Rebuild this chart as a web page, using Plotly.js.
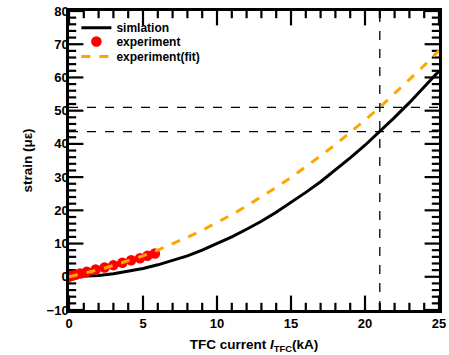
<!DOCTYPE html>
<html><head><meta charset="utf-8">
<script src="https://cdn.plot.ly/plotly-3.0.1.min.js"></script>
<style>body{margin:0;background:#fff}#c{width:449px;height:355px}</style>
</head><body><div id="c"></div>
<script>
var simX = [0,1,2,3,4,5,6,7,8,9,10,11,12,13,14,15,16,17,18,19,20,21,22,23,24,25];
var simY = [0,0.1,0.4,0.9,1.6,2.5,3.6,4.9,6.3,8.0,9.9,12.0,14.3,16.7,19.4,22.3,25.4,28.6,32.1,35.8,39.6,43.7,48.0,52.4,57.1,61.9];
var fitX = [0,1,2,3,4,5,6,7,8,9,10,11,12,13,14,15,16,17,18,19,20,21,22,23,24,25];
var fitY = [0,1.0,2.1,3.4,4.8,6.3,8.0,9.9,11.9,14.0,16.3,18.7,21.3,24.0,26.9,29.9,33.1,36.4,39.8,43.4,47.2,51.0,55.1,59.3,63.6,68.1];
var expX = [0,0.2,0.45,0.75,1.2,1.8,2.4,3.0,3.6,4.2,4.8,5.3,5.8];
var expY = [0,0.3,0.6,1.0,1.5,2.2,2.8,3.5,4.2,5.0,5.6,6.3,7.0];
var refX = [21];
var refY = [51.0, 43.7];
var xRange = [0, 25];
var yRange = [-10, 80];
var xTicks = [0,5,10,15,20,25];
var yTicks = [-10,0,10,20,30,40,50,60,70,80];
var xMinorStep = 1;
var yMinorStep = 2;

var W = 449, H = 355, M = {l: 69, r: 10, t: 11, b: 45};
var pxX = (W - M.l - M.r) / (xRange[1] - xRange[0]);
var pxY = (H - M.t - M.b) / (yRange[1] - yRange[0]);

var traces = [];
// inside tick marks on all four sides, drawn as line markers centred half a tick length inside the frame
function tickTrace(vals, isX, len){
  var xs = [], ys = [];
  vals.forEach(function(v){
    if (isX) {
      xs.push(v, v); ys.push(yRange[0] + (len / 2) / pxY, yRange[1] - (len / 2) / pxY);
    } else {
      ys.push(v, v); xs.push(xRange[0] + (len / 2) / pxX, xRange[1] - (len / 2) / pxX);
    }
  });
  traces.push({x: xs, y: ys, mode: 'markers', showlegend: false, hoverinfo: 'skip', cliponaxis: false,
    marker: {symbol: isX ? 'line-ns-open' : 'line-ew-open', size: len, color: '#000', line: {color: '#000', width: 2.2}}});
}
var xMaj = [], xMin = [], yMaj = [], yMin = [];
for (var xv = xRange[0]; xv <= xRange[1] + 1e-9; xv += xMinorStep) (xTicks.indexOf(xv) >= 0 ? xMaj : xMin).push(xv);
for (var yv = yRange[0]; yv <= yRange[1] + 1e-9; yv += yMinorStep) (yTicks.indexOf(yv) >= 0 ? yMaj : yMin).push(yv);
tickTrace(xMaj, true, 12); tickTrace(xMin, true, 6);
tickTrace(yMaj, false, 12); tickTrace(yMin, false, 6);

traces.push(
  {x: simX, y: simY, mode: 'lines', name: 'simlation', legend: 'legend', line: {color: '#000', width: 3}},
  {x: expX, y: expY, mode: 'markers', name: 'experiment', legend: 'legend2', marker: {color: '#ff0000', size: 10.5}},
  {x: fitX, y: fitY, mode: 'lines', name: 'experiment(fit)', legend: 'legend3', line: {color: '#ffa500', width: 3, dash: 'dash'}}
);
var shapes = [];
refY.forEach(function(v){shapes.push({type:'line', xref:'x', yref:'y', x0:xRange[0], x1:xRange[1], y0:v, y1:v, line:{color:'#000', width:1.3, dash:'dash'}});});
refX.forEach(function(v){shapes.push({type:'line', xref:'x', yref:'y', x0:v, x1:v, y0:yRange[0], y1:yRange[1], line:{color:'#000', width:1.3, dash:'dash'}});});

var fam = 'Liberation Sans, Arial, sans-serif';
var tickF = {family: fam, size: 13, color: '#000', weight: 'bold'};
var titleF = {family: fam, size: 13.5, color: '#000', weight: 'bold'};
var legF = {family: fam, size: 12, color: '#000', weight: 'bold'};
function leg(y){ return {x: 0.02, y: y, xanchor: 'left', yanchor: 'middle', bgcolor: 'rgba(0,0,0,0)', font: legF, itemwidth: 30, borderwidth: 0}; }
var layout = {
  width: W, height: H,
  margin: M,
  paper_bgcolor: '#fff', plot_bgcolor: '#fff',
  showlegend: true,
  legend: leg(0.944), legend2: leg(0.898), legend3: leg(0.848),
  shapes: shapes,
  xaxis: {range: xRange, tickvals: xTicks, showgrid: false, zeroline: false,
          showline: true, linecolor: '#000', linewidth: 2.5, mirror: true,
          ticks: '', tickfont: tickF,
          title: {text: 'TFC current <i>I</i><sub>TFC</sub>(kA)', font: titleF, standoff: 10}},
  yaxis: {range: yRange, tickvals: yTicks, showgrid: false, zeroline: false,
          showline: true, linecolor: '#000', linewidth: 2.5, mirror: true,
          ticks: '', tickfont: tickF, ticklabelstandoff: -5,
          title: {text: 'strain (με)', font: titleF, standoff: 11}}
};
Plotly.newPlot('c', traces, layout, {displayModeBar: false});
</script></body></html>
